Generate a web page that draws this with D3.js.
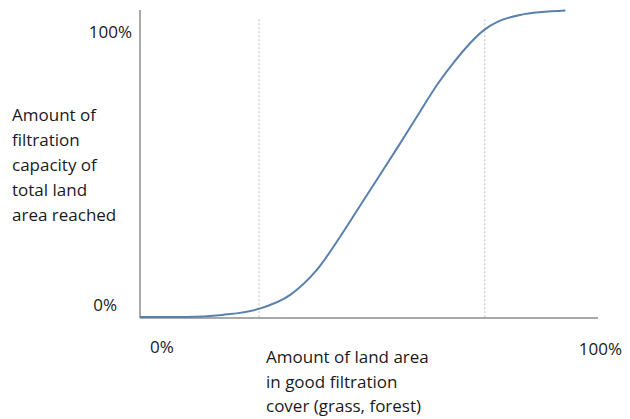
<!DOCTYPE html>
<html lang="en">
<head>
    <meta charset="UTF-8">
    <title>Filtration capacity</title>
    <script src="https://cdn.jsdelivr.net/npm/d3@7/dist/d3.min.js"></script>
    <style type="text/css">
        body { margin: 0; background: #fff; }
        text { font-family: "Open Sans", Lato, sans-serif; fill: #1a1a1a; }
        .curve { fill: none; stroke: #5a80ad; stroke-width: 2px; }
        .axis-line { stroke: #8c8c8c; stroke-width: 1.5px; }
        .guide { stroke: #bdbdbd; stroke-width: 1px; stroke-dasharray: 2,2; }
    </style>
</head>
<body>
    <div id="diagram"></div>
    <script type="text/javascript">
        // curve: x = land cover %, y = filtration reached %
        var curveX = [0, 10, 18, 25.8, 32.8, 38.6, 43.7, 49.1, 56.8, 61.1, 65.1, 68.3, 75.3, 83, 92.9];
        var curveY = [0.3, 0.3, 1, 2.9, 7.5, 15.6, 26.4, 38.9, 56.7, 66.9, 76.2, 82.6, 93.7, 98.4, 99.8];
        var guideX = [26, 75.3];
        var xTickLabels = ["0%", "100%"];
        var yTickLabels = ["0%", "100%"];
        var yTitle = ["Amount of", "filtration", "capacity of", "total land", "area reached"];
        var xTitle = ["Amount of land area", "in good filtration", "cover (grass, forest)"];

        var width = 630, height = 419;
        var svg = d3.select("#diagram").append("svg")
            .attr("width", width)
            .attr("height", height);

        var x = d3.scaleLinear().domain([0, 100]).range([140, 598]);
        var y = d3.scaleLinear().domain([0, 100]).range([318, 10]);

        var pts = curveX.map(function (d, i) { return {x: d, y: curveY[i]}; });

        // dashed guides
        svg.selectAll(".guide")
            .data(guideX)
            .enter()
            .append("line")
            .attr("class", "guide")
            .attr("x1", function (d) { return x(d); })
            .attr("x2", function (d) { return x(d); })
            .attr("y1", y(97))
            .attr("y2", y(0));

        // axes as plain lines
        svg.append("line").attr("class", "axis-line")
            .attr("x1", x(0)).attr("x2", x(0))
            .attr("y1", y(100)).attr("y2", y(0));
        svg.append("line").attr("class", "axis-line")
            .attr("x1", x(0)).attr("x2", x(100))
            .attr("y1", y(0)).attr("y2", y(0));

        var line = d3.line()
            .x(function (d) { return x(d.x); })
            .y(function (d) { return y(d.y); })
            .curve(d3.curveMonotoneX);

        svg.append("path")
            .attr("class", "curve")
            .attr("d", line(pts));

        // tick labels
        svg.append("text").attr("x", x(0) - 8).attr("y", y(91))
            .attr("text-anchor", "end").style("font-size", "17px")
            .text(yTickLabels[1]);
        svg.append("text").attr("x", x(0) - 23).attr("y", y(2.3))
            .attr("text-anchor", "end").style("font-size", "17px")
            .text(yTickLabels[0]);
        svg.append("text").attr("x", x(0) + 10).attr("y", 353)
            .style("font-size", "17px")
            .text(xTickLabels[0]);
        svg.append("text").attr("x", x(100) + 24).attr("y", 355)
            .attr("text-anchor", "end").style("font-size", "17px")
            .text(xTickLabels[1]);

        // axis titles
        svg.append("g").selectAll("text")
            .data(yTitle)
            .enter()
            .append("text")
            .attr("x", 12)
            .attr("y", function (d, i) { return 121 + i * 25; })
            .style("font-size", "17px")
            .text(function (d) { return d; });

        svg.append("g").selectAll("text")
            .data(xTitle)
            .enter()
            .append("text")
            .attr("x", 266)
            .attr("y", function (d, i) { return 363 + i * 24.5; })
            .style("font-size", "17px")
            .text(function (d) { return d; });
    </script>
</body>
</html>
